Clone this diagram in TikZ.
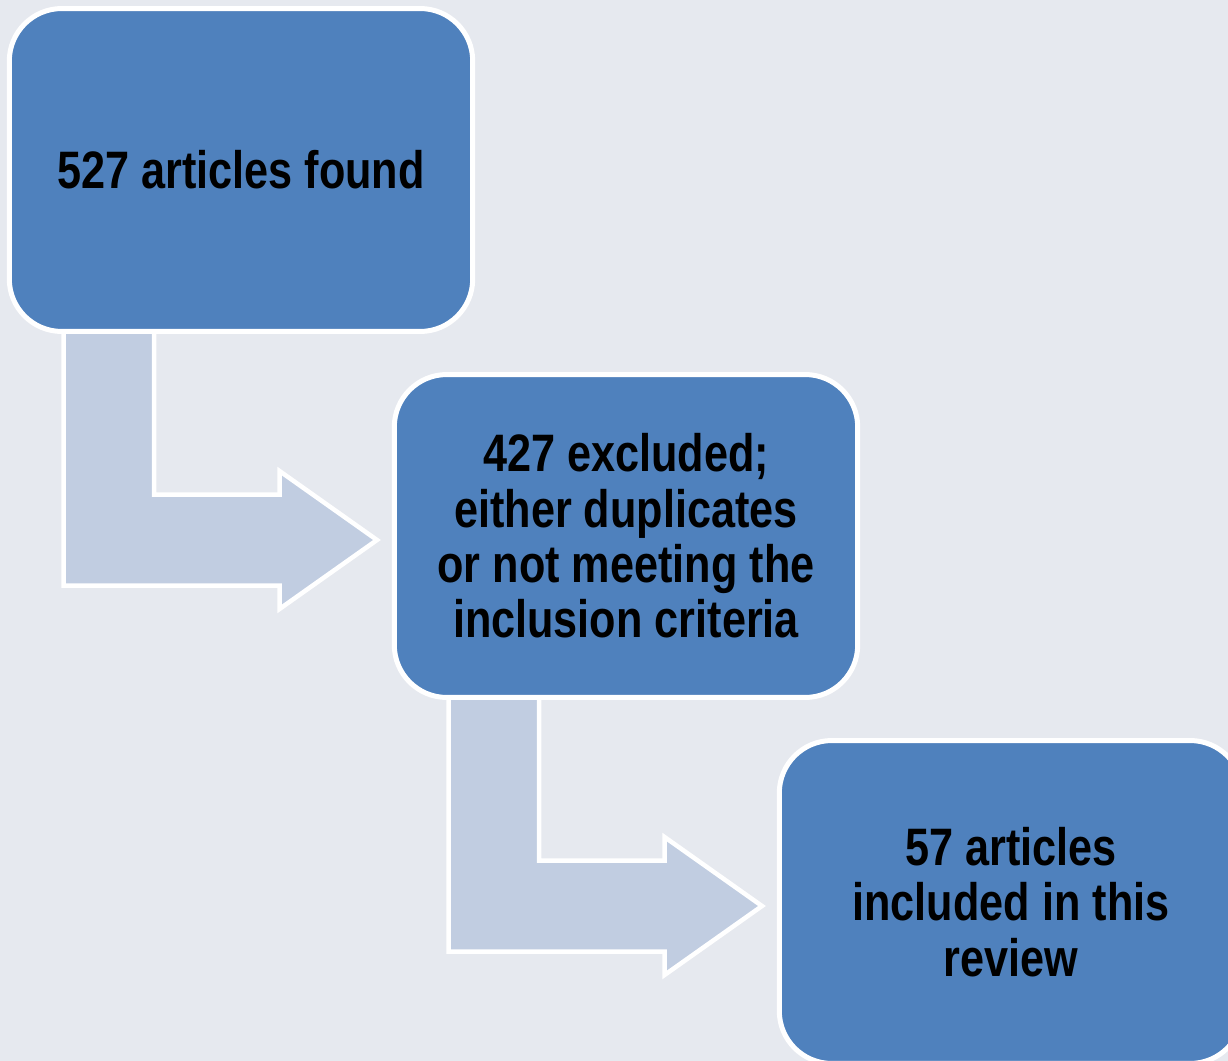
\documentclass[tikz,border=0pt]{standalone}
\usepackage{fontspec}
\setmainfont{Liberation Sans}[FakeStretch=0.82]
\usepackage{tikz}
\definecolor{boxblue}{HTML}{4F81BD}
\definecolor{arrowblue}{HTML}{C1CDE1}
\definecolor{pagebg}{HTML}{E6E9EF}
\tikzset{
  flowbox/.style={draw=white,line width=0.1cm,fill=boxblue,rounded corners=1.05cm,
    minimum width=9.27cm,minimum height=6.46cm,align=center,inner sep=0pt,
    font=\bfseries\fontsize{30}{31.5}\selectfont},
  bentarrow/.style={draw=white,line width=0.09cm,fill=arrowblue,miter limit=10}
}
\begin{document}
\begin{tikzpicture}[x=0.02cm,y=-0.02cm] % Article selection flow
        \fill[pagebg](0,0) rectangle (1228,1061);
        \useasboundingbox(0,0) rectangle (1228,1061);
        \clip(0,0) rectangle (1228,1061);
        % bent block arrows (drawn under the boxes)
        \filldraw[bentarrow](63.5,320)--(154,320)--(154,494.5)--(279.5,494.5)--(279.5,471)--(377,540)--(279.5,609)--(279.5,585.5)--(63.5,585.5)--cycle;
        \filldraw[bentarrow,shift={(385,366)}](63.5,320)--(154,320)--(154,494.5)--(279.5,494.5)--(279.5,471)--(377,540)--(279.5,609)--(279.5,585.5)--(63.5,585.5)--cycle;
        % boxes
        \node[flowbox] (found) at (241,170) {527 articles found};
        \node[flowbox] (excluded) at (626,536) {427 excluded;\\either duplicates\\or not meeting the\\inclusion criteria};
        \node[flowbox] (included) at (1011,902) {57 articles\\included in this\\review};
\end{tikzpicture}
\end{document}
